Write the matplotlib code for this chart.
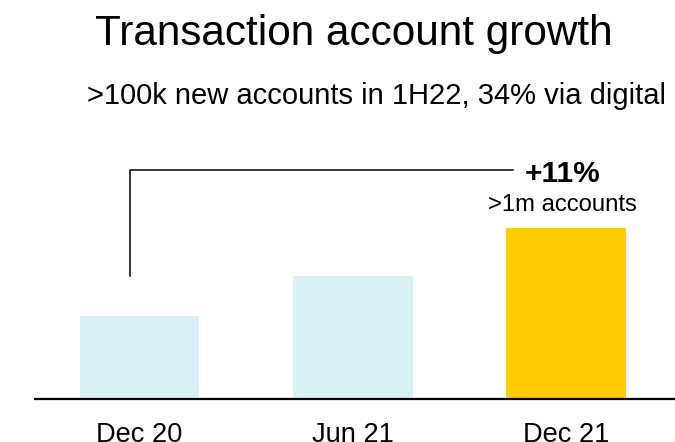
import matplotlib
matplotlib.use("Agg")
import matplotlib.pyplot as plt

# Transaction accounts (thousands)
periods = ["Dec 20", "Jun 21", "Dec 21"]
accounts = [920, 966, 1021]
bar_colors = ["#DAF0F7", "#DAF0F7", "#FFCC00"]
growth_label = "+11%"
total_label = ">1m accounts"

plt.rcParams["font.family"] = ["Liberation Sans", "DejaVu Sans"]

W, H = 675, 442
fig = plt.figure(figsize=(W / 100, H / 100), dpi=100)


def fy(py):
    """Figure fraction from a pixel row measured from the top."""
    return 1 - py / H


# axes: baseline at y=399px, top at y=150px, spanning x 35..675px
ax = fig.add_axes([35 / W, fy(399), 640 / W, (399 - 150) / H])
x = list(range(len(periods)))
ax.bar(x, accounts, width=0.56, color=bar_colors)
ax.set_xlim(-0.49, 2.51)
ax.set_ylim(825, 1111)
for s in ["top", "right", "left"]:
    ax.spines[s].set_visible(False)
ax.spines["bottom"].set_linewidth(1.6)
ax.set_yticks([])
ax.set_xticks(x)
ax.set_xticklabels(periods, fontsize=19.6)
ax.tick_params(axis="x", length=0, pad=16.5)

# growth bracket from Dec 20 towards Dec 21
bx = -0.045
ax.plot([bx, bx, 1.75], [accounts[1], 1088, 1088], color="black", lw=1.1,
        solid_joinstyle="miter", clip_on=False)

fig.text(562.5 / W, fy(182), growth_label, ha="center", va="baseline",
         fontsize=21.5, fontweight="bold")
fig.text(562.5 / W, fy(211), total_label, ha="center", va="baseline",
         fontsize=17.2)

fig.text(95 / W, fy(45), "Transaction account growth", ha="left",
         va="baseline", fontsize=30.4)
fig.text(87 / W, fy(104), ">100k new accounts in 1H22, 34% via digital",
         ha="left", va="baseline", fontsize=21)

fig.savefig("out.png", dpi=100)
